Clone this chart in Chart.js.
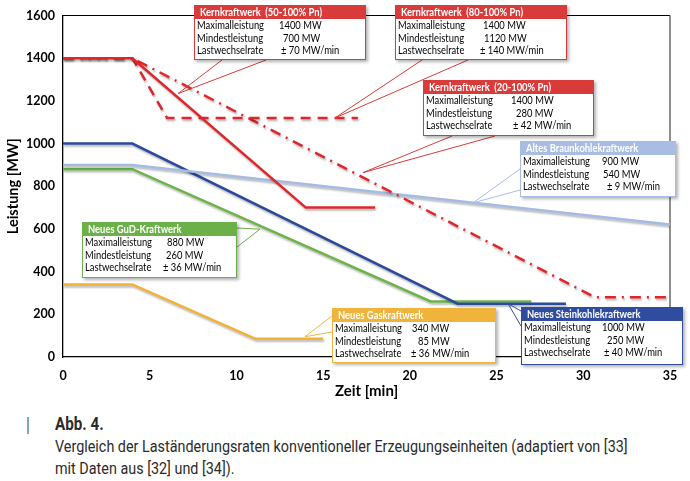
<!DOCTYPE html>
<html>
<head>
<meta charset="utf-8">
<script src="https://cdn.jsdelivr.net/npm/chart.js@4.4.0/dist/chart.umd.min.js"></script>
<style>
  html, body { margin:0; padding:0; background:#fff; }
  #wrap { position:relative; width:690px; height:481px; overflow:hidden; }
  #chartBox { position:absolute; left:0; top:0; width:690px; height:400px; }
  #bar { position:absolute; left:27px; top:417px; width:2px; height:17px; background:#7fa7b8; }
  .cap { position:absolute; left:55px; font-family:Roboto,"Noto Sans",sans-serif; color:#2b2b2b; white-space:nowrap; transform-origin:0 0; }
  #abb { top:413px; font-weight:bold; font-size:18px; }
  #cap1 { top:436px; font-size:17px; }
  #cap2 { top:458px; font-size:17px; }
</style>
</head>
<body>
<div id="wrap">
  <div id="chartBox"><canvas id="c"></canvas></div>
  <div id="bar"></div>
  <div id="abb" class="cap">Abb. 4.</div>
  <div id="cap1" class="cap">Vergleich der Laständerungsraten konventioneller Erzeugungseinheiten (adaptiert von [33]</div>
  <div id="cap2" class="cap">mit Daten aus [32] und [34]).</div>
</div>
<script>
// ---- data (time in min, power in MW) ----
const kk50Time = [0, 4, 14, 18];
const kk50Power = [1400, 1400, 700, 700];
const kk80Time = [0, 4, 6, 17];
const kk80Power = [1400, 1400, 1120, 1120];
const kk20Time = [0, 4, 30.67, 35];
const kk20Power = [1400, 1400, 280, 280];
const braunTime = [0, 4, 35];
const braunPower = [900, 900, 621];
const steinTime = [0, 4, 22.75, 29];
const steinPower = [1000, 1000, 250, 250];
const gudTime = [0, 4, 21.2, 27];
const gudPower = [880, 880, 260, 260];
const gasTime = [0, 4, 11.1, 15];
const gasPower = [340, 340, 85, 85];

const xTicks = [0, 5, 10, 15, 20, 25, 30, 35];
const yTicks = [0, 200, 400, 600, 800, 1000, 1200, 1400, 1600];

const boxTitles = ['Kernkraftwerk  (50-100% Pn)', 'Kernkraftwerk  (80-100% Pn)', 'Kernkraftwerk  (20-100% Pn)',
  'Altes Braunkohlekraftwerk', 'Neues GuD-Kraftwerk', 'Neues Gaskraftwerk', 'Neues Steinkohlekraftwerk'];
const rowLabels = ['Maximalleistung', 'Mindestleistung', 'Lastwechselrate'];
const boxValues = [
  ['1400 MW', '700 MW', '± 70 MW/min'],
  ['1400 MW', '1120 MW', '± 140 MW/min'],
  ['1400 MW', '280 MW', '± 42 MW/min'],
  ['900 MW', '540 MW', '± 9 MW/min'],
  ['880 MW', '260 MW', '± 36 MW/min'],
  ['340 MW', '85 MW', '± 36 MW/min'],
  ['1000 MW', '250 MW', '± 40 MW/min']
];
// callout tip points on the curves (time, power)
const tipTime = [6.63, 15.68, 17.3, 23.64, 11.36, 13.95, 25.66];
const tipPower = [1234, 1120, 864, 722, 599, 95, 250];

function pts(t, p) { return t.map((x, i) => ({ x: x, y: p[i] })); }

// ---- caption fitting ----
(function () {
  const c1 = document.getElementById('cap1');
  const s = 573 / c1.scrollWidth;
  ['abb', 'cap1', 'cap2'].forEach(id => { document.getElementById(id).style.transform = 'scaleX(' + s + ')'; });
})();

// ---- styles / layout ----
const RED = '#e0262b', DBLUE = '#2b4a9c', LBLUE = '#a4bbe4', GREEN = '#6cb448', YELLOW = '#f2b232';
const boxLayout = [
  { l: 194, t: 5, w: 172, h: 55, c: '#d93a3a', bc: '#d93a3a', vx: [85, 89, 87], base: [[222, 60], [266, 60]] },
  { l: 395, t: 5, w: 172, h: 55, c: '#d93a3a', bc: '#d93a3a', vx: [88, 89, 85], base: [[422, 60], [468, 60]] },
  { l: 423, t: 80, w: 171, h: 56, c: '#d93a3a', bc: '#d93a3a', vx: [88, 93, 90], base: [[452, 136], [495, 136]] },
  { l: 520, t: 141, w: 156, h: 56, c: '#a9bde4', bc: '#a9bde4', vx: [82, 83, 87], base: [[520, 169], [520, 190]] },
  { l: 82, t: 222, w: 155, h: 56, c: '#6cb04a', bc: '#6cb04a', vx: [85, 84, 81], base: [[237, 228], [237, 247]] },
  { l: 332, t: 308, w: 164, h: 55, c: '#f0b43c', bc: '#f0b43c', vx: [80, 86, 79], base: [[332, 316], [332, 332]] },
  { l: 521, t: 307, w: 162, h: 58, c: '#2f4c9e', bc: '#2f4c9e', vx: [81, 86, 83], base: [[521, 311], [521, 326]] }
];

const FONT = 'Lato, "Open Sans", sans-serif';
const BODY_FONT = '12px ' + FONT;
const TITLE_FONT = 'bold 12px ' + FONT;

function narrowText(ctx, txt, x, y, sx) {
  ctx.save();
  ctx.translate(x, y);
  ctx.scale(sx, 1);
  ctx.fillText(txt, 0, 0);
  ctx.restore();
}

const framePlugin = {
  id: 'frame',
  beforeDatasetsDraw(chart) {
    const a = chart.chartArea, ctx = chart.ctx;
    ctx.save();
    ctx.lineWidth = 1.2;
    ctx.strokeStyle = '#000';
    ctx.beginPath();
    ctx.moveTo(a.left, a.top); ctx.lineTo(a.right, a.top);
    ctx.stroke();
    ctx.strokeStyle = '#444';
    ctx.beginPath();
    ctx.moveTo(a.right, a.top); ctx.lineTo(a.right, a.bottom);
    ctx.stroke();
    ctx.restore();
  }
};

const shadowPlugin = {
  id: 'lineShadow',
  beforeDatasetDraw(chart) {
    const ctx = chart.ctx;
    ctx.save();
    ctx.shadowColor = 'rgba(0,0,0,0.28)';
    ctx.shadowOffsetX = 1;
    ctx.shadowOffsetY = 2;
    ctx.shadowBlur = 2;
  },
  afterDatasetDraw(chart) { chart.ctx.restore(); }
};

const boxPlugin = {
  id: 'boxes',
  afterDraw(chart) {
    const ctx = chart.ctx, xs = chart.scales.x, ys = chart.scales.y;
    ctx.save();
    ctx.font = BODY_FONT;
    const bodySX = 67 / ctx.measureText('Maximalleistung').width;
    ctx.font = TITLE_FONT;
    const titleSX = 122 / ctx.measureText(boxTitles[0]).width;
    ctx.restore();
    boxLayout.forEach((b, i) => {
      const tx = xs.getPixelForValue(tipTime[i]);
      const ty = ys.getPixelForValue(tipPower[i]);
      ctx.save();
      ctx.strokeStyle = b.bc; ctx.lineWidth = 1;
      ctx.beginPath();
      ctx.moveTo(b.base[0][0], b.base[0][1]); ctx.lineTo(tx, ty); ctx.lineTo(b.base[1][0], b.base[1][1]);
      ctx.stroke();
      ctx.shadowColor = 'rgba(0,0,0,0.3)'; ctx.shadowOffsetX = 2; ctx.shadowOffsetY = 2; ctx.shadowBlur = 3;
      ctx.fillStyle = '#fff';
      ctx.fillRect(b.l, b.t, b.w, b.h);
      ctx.shadowColor = 'transparent';
      ctx.fillStyle = b.c;
      ctx.fillRect(b.l, b.t, b.w, 14);
      ctx.strokeStyle = b.bc; ctx.lineWidth = 1;
      ctx.strokeRect(b.l + 0.5, b.t + 0.5, b.w - 1, b.h - 1);
      ctx.textBaseline = 'middle';
      ctx.fillStyle = '#fff';
      ctx.font = TITLE_FONT;
      narrowText(ctx, boxTitles[i], b.l + 6, b.t + 7.5, titleSX);
      ctx.fillStyle = '#000';
      ctx.font = BODY_FONT;
      const rowY = [20.5, 33, 45.5];
      rowLabels.forEach((lab, r) => {
        narrowText(ctx, lab, b.l + 3, b.t + rowY[r], bodySX);
        narrowText(ctx, boxValues[i][r], b.l + b.vx[r], b.t + rowY[r], bodySX);
      });
      ctx.restore();
    });
  }
};

const tickFont = { family: FONT, weight: 'bold', size: 12.5 };

new Chart(document.getElementById('c'), {
  type: 'line',
  data: {
    datasets: [
      { label: 'Kernkraftwerk (50-100% Pn)', data: pts(kk50Time, kk50Power), borderColor: RED, borderWidth: 2.5 },
      { label: 'Kernkraftwerk (80-100% Pn)', data: pts(kk80Time, kk80Power), borderColor: RED, borderWidth: 2.5, borderDash: [10, 7] },
      { label: 'Kernkraftwerk (20-100% Pn)', data: pts(kk20Time, kk20Power), borderColor: RED, borderWidth: 2.5, borderDash: [11, 6, 2, 6] },
      { label: 'Altes Braunkohlekraftwerk', data: pts(braunTime, braunPower), borderColor: LBLUE, borderWidth: 2.5 },
      { label: 'Neues Steinkohlekraftwerk', data: pts(steinTime, steinPower), borderColor: DBLUE, borderWidth: 2.5 },
      { label: 'Neues GuD-Kraftwerk', data: pts(gudTime, gudPower), borderColor: GREEN, borderWidth: 2.5 },
      { label: 'Neues Gaskraftwerk', data: pts(gasTime, gasPower), borderColor: YELLOW, borderWidth: 2.5 }
    ]
  },
  options: {
    responsive: true,
    maintainAspectRatio: false,
    animation: false,
    layout: { padding: { left: 0, right: 20, top: 7, bottom: 0 } },
    elements: { point: { radius: 0 }, line: { tension: 0, fill: false, borderCapStyle: 'butt' } },
    plugins: { legend: { display: false }, tooltip: { enabled: false } },
    scales: {
      x: {
        type: 'linear', min: 0, max: 35,
        afterBuildTicks(ax) { ax.ticks = xTicks.map(v => ({ value: v })); },
        afterFit(ax) { ax.height = 43; },
        grid: { display: false, drawTicks: false },
        border: { display: true, color: '#000', width: 1.3 },
        ticks: { color: '#000', font: tickFont, padding: 11, callback: v => String(v) },
        title: { display: true, text: 'Zeit [min]', color: '#000', font: { family: FONT, weight: 'bold', size: 15 }, padding: { top: 0, bottom: 0 } }
      },
      y: {
        min: 0, max: 1600,
        afterBuildTicks(ax) { ax.ticks = yTicks.map(v => ({ value: v })); },
        afterFit(ax) { ax.width = 63; },
        grid: { display: false, drawTicks: false },
        border: { display: true, color: '#000', width: 1.3 },
        ticks: { color: '#000', font: tickFont, padding: 8, callback: v => String(v) },
        title: { display: true, text: 'Leistung [MW]', color: '#000', font: { family: FONT, weight: 'bold', size: 14.5 }, padding: { top: 5, bottom: 0 } }
      }
    }
  },
  plugins: [framePlugin, shadowPlugin, boxPlugin]
});
</script>
</body>
</html>
